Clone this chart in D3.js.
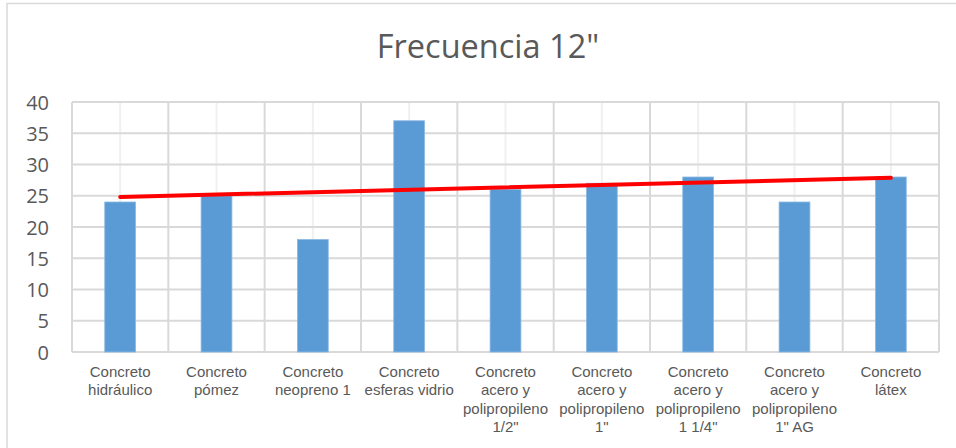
<!DOCTYPE html>
<html><head><meta charset="utf-8">
<script src="https://cdn.jsdelivr.net/npm/d3@7"></script>
<style>html,body{margin:0;padding:0;background:#fff;}svg{display:block;}</style>
</head><body>
<svg id="c" width="956" height="448"></svg>
<script>
const title = 'Frecuencia 12"';
const categories = [
  ["Concreto","hidráulico"],
  ["Concreto","pómez"],
  ["Concreto","neopreno 1"],
  ["Concreto","esferas vidrio"],
  ["Concreto","acero y","polipropileno",'1/2"'],
  ["Concreto","acero y","polipropileno",'1"'],
  ["Concreto","acero y","polipropileno",'1 1/4"'],
  ["Concreto","acero y","polipropileno",'1" AG'],
  ["Concreto","látex"]
];
const values = [24, 25, 18, 37, 26, 27, 28, 24, 28];
const yTicks = [0, 5, 10, 15, 20, 25, 30, 35, 40];

const svg = d3.select("#c");
const plot = {left: 72, right: 939, top: 102, bottom: 352};
const idx = categories.map((d, i) => i);

const x = d3.scaleBand().domain(idx).range([plot.left, plot.right]).paddingInner(0.68).paddingOuter(0.34);
const xb = d3.scaleBand().domain(idx).range([plot.left, plot.right]);
const y = d3.scaleLinear().domain([0, 40]).range([plot.bottom, plot.top]);

// chart border
svg.append("rect").attr("x", 7).attr("y", 3.5).attr("width", 960).attr("height", 460)
  .attr("fill", "#fff").attr("stroke", "#d9d9d9").attr("stroke-width", 1.5);

// title
svg.append("text").attr("x", 488).attr("y", 58).attr("text-anchor", "middle")
  .attr("font-family", "Open Sans").attr("font-size", 32.5).attr("fill", "#595959").text(title);

// light vertical lines at category centers
svg.append("g").selectAll("line").data(idx).join("line")
  .attr("x1", d => xb(d) + xb.bandwidth() / 2).attr("x2", d => xb(d) + xb.bandwidth() / 2)
  .attr("y1", plot.top).attr("y2", plot.bottom)
  .attr("stroke", "#f0f0f0").attr("stroke-width", 2);

// horizontal grid
svg.append("g").selectAll("line").data(yTicks).join("line")
  .attr("x1", plot.left).attr("x2", plot.right)
  .attr("y1", d => y(d)).attr("y2", d => y(d))
  .attr("stroke", "#d9d9d9").attr("stroke-width", 2);

// vertical boundaries
const bounds = idx.map(d => xb(d)).concat([plot.right]);
svg.append("g").selectAll("line").data(bounds).join("line")
  .attr("x1", d => d).attr("x2", d => d)
  .attr("y1", plot.top).attr("y2", plot.bottom)
  .attr("stroke", "#d9d9d9").attr("stroke-width", 2);

// y axis labels
const yAxis = d3.axisLeft(y).tickValues(yTicks).tickSize(0).tickPadding(0);
const ga = svg.append("g").attr("transform", `translate(${plot.left - 23},0)`).call(yAxis);
ga.select(".domain").remove();
ga.selectAll("text").attr("font-family", "Open Sans").attr("font-size", 20).attr("fill", "#595959").attr("dy", "0.36em");

// bars
svg.append("g").selectAll("rect").data(values).join("rect")
  .attr("x", (d, i) => x(i)).attr("width", x.bandwidth())
  .attr("y", d => y(d)).attr("height", d => y(0) - y(d))
  .attr("fill", "#5b9bd5").attr("stroke", "#8db8e2").attr("stroke-width", 0.8);

// category labels
const cl = svg.append("g").selectAll("text").data(categories).join("text")
  .attr("x", (d, i) => xb(i) + xb.bandwidth() / 2).attr("y", 377)
  .attr("text-anchor", "middle").attr("font-family", "Liberation Sans").attr("font-size", 15)
  .attr("fill", "#595959");
cl.selectAll("tspan").data(d => d).join("tspan")
  .attr("x", function() { return this.parentNode.getAttribute("x"); })
  .attr("dy", (d, i) => i === 0 ? 0 : 18.3).text(d => d);

// linear trend line (least squares on category index)
const n = values.length;
const xs = values.map((d, i) => i + 1);
const mx = d3.mean(xs), my = d3.mean(values);
const slope = d3.sum(xs, (xi, i) => (xi - mx) * (values[i] - my)) / d3.sum(xs, xi => (xi - mx) ** 2);
const icpt = my - slope * mx;
const trend = [1, n].map(xi => [xb(xi - 1) + xb.bandwidth() / 2, y(icpt + slope * xi)]);
svg.append("path").attr("d", d3.line()(trend)).attr("stroke", "#ff0000").attr("stroke-width", 4)
  .attr("fill", "none").attr("stroke-linecap", "round");
</script>
</body></html>
